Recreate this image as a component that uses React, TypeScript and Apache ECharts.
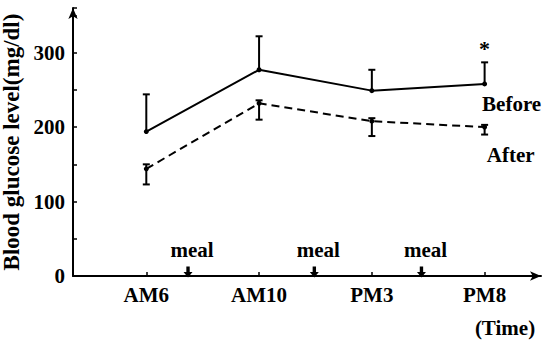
import React, { useEffect, useRef } from "react";
import * as echarts from "echarts";

const categories = ["AM6", "AM10", "PM3", "PM8"];
const beforeMean = [194, 277, 249, 258];
const beforeUpper = [244, 322, 277, 287];
const afterMean = [144, 232, 208, 200];
const afterLower = [123, 210, 188, 190];
const afterUpper = [150, 236, 212, 203];
const mealTimes = [1.37, 2.49, 3.44];
const significant = [{ category: "PM8", value: 306 }];
const yTickLabels = [0, 100, 200, 300];

const FONT = "Liberation Serif";
const FS = 21;

export default function App() {
  const ref = useRef<HTMLDivElement>(null);
  useEffect(() => {
    if (!ref.current) return;
    const chart = echarts.init(ref.current, null, { renderer: "svg" });
    const xs = categories.map((_, i) => i + 1);
    const errRender = (caps: "top" | "both") => (params: any, api: any) => {
      const x = api.value(0);
      const lo = api.coord([x, api.value(1)]);
      const hi = api.coord([x, api.value(2)]);
      const c = 3.5;
      const st = { stroke: "#000", lineWidth: 2 };
      const children: any[] = [
        { type: "line", shape: { x1: lo[0], y1: lo[1], x2: hi[0], y2: hi[1] }, style: st },
        { type: "line", shape: { x1: hi[0] - c, y1: hi[1], x2: hi[0] + c, y2: hi[1] }, style: st },
      ];
      if (caps === "both")
        children.push({ type: "line", shape: { x1: lo[0] - c, y1: lo[1], x2: lo[0] + c, y2: lo[1] }, style: st });
      return { type: "group", children };
    };
    const n = categories.length;
    const txt = { fontSize: FS, fontWeight: "bold", fontFamily: FONT, color: "#000", opacity: 1 };
    chart.setOption({
      animation: false,
      backgroundColor: "#fff",
      textStyle: { fontFamily: FONT, color: "#000" },
      grid: { left: 73, right: 3, top: 8, bottom: 66, outerBoundsMode: "none", containLabel: false },
      xAxis: {
        type: "value",
        min: 0.35,
        max: 4.5,
        splitLine: { show: false },
        axisLine: { show: true, symbol: ["none", "arrow"], symbolSize: [7, 11], lineStyle: { color: "#000", width: 2 } },
        axisTick: { show: true, inside: true, length: 4, customValues: xs, lineStyle: { color: "#000", width: 1.5 } },
        axisLabel: {
          show: true,
          customValues: xs,
          margin: 8,
          ...txt,
          formatter: (v: number) => categories[Math.round(v) - 1] ?? "",
        },
      },
      yAxis: {
        type: "value",
        min: 0,
        max: 360,
        interval: 50,
        name: "Blood glucose level(mg/dl)",
        nameLocation: "middle",
        nameRotate: 90,
        nameGap: 37,
        nameTextStyle: { ...txt, fontSize: 23 },
        splitLine: { show: false },
        axisLine: { show: true, symbol: ["none", "arrow"], symbolSize: [7, 11], lineStyle: { color: "#000", width: 2 } },
        axisTick: { show: true, inside: true, length: 4, lineStyle: { color: "#000", width: 1.5 } },
        axisLabel: {
          margin: 8,
          ...txt,
          formatter: (v: number) => (yTickLabels.includes(v) ? String(v) : ""),
        },
      },
      series: [
        {
          type: "line",
          data: beforeMean.map((v, i) => {
            const d: any = { value: [xs[i], v] };
            if (i === n - 1)
              d.label = { show: true, position: "bottom", formatter: "Before", offset: [27, 2], ...txt };
            return d;
          }),
          symbol: "circle",
          symbolSize: 5,
          itemStyle: { color: "#000" },
          lineStyle: { color: "#000", width: 2, type: "solid" },
        },
        {
          type: "line",
          data: afterMean.map((v, i) => {
            const d: any = { value: [xs[i], v] };
            if (i === n - 1)
              d.label = { show: true, position: "bottom", formatter: "After", offset: [26, 10], ...txt };
            return d;
          }),
          symbol: "circle",
          symbolSize: 5,
          itemStyle: { color: "#000" },
          lineStyle: { color: "#000", width: 2, type: [8, 5] },
        },
        {
          type: "custom",
          renderItem: errRender("top"),
          data: beforeMean.map((v, i) => [xs[i], v, beforeUpper[i]]),
          encode: { x: 0, y: [1, 2] },
          z: 3,
        },
        {
          type: "custom",
          renderItem: errRender("both"),
          data: afterLower.map((v, i) => [xs[i], v, afterUpper[i]]),
          encode: { x: 0, y: [1, 2] },
          z: 3,
        },
        {
          type: "scatter",
          data: significant.map((s) => [categories.indexOf(s.category) + 1, s.value]),
          symbolSize: 1,
          itemStyle: { color: "transparent", opacity: 1 },
          label: { show: true, position: "inside", formatter: "*", ...txt, fontSize: 22 },
        },
        {
          type: "scatter",
          data: mealTimes.map((t) => [t, 0]),
          symbol: "path://M2.5,0 L5.5,0 L5.5,5 L8,5 L4,10 L0,5 L2.5,5 Z",
          symbolSize: [9, 11],
          symbolOffset: [0, -4],
          itemStyle: { color: "#000", opacity: 1 },
          label: { show: true, position: "top", formatter: "meal", offset: [4, -1], ...txt },
          z: 4,
        },
      ],
      graphic: [
        {
          type: "text",
          x: 505,
          y: 328,
          style: { text: "(Time)", fontSize: FS, fontWeight: "bold", fontFamily: FONT, fill: "#000", textAlign: "center", textVerticalAlign: "middle" },
        },
      ],
    });
    return () => chart.dispose();
  }, []);
  return <div ref={ref} style={{ width: 544, height: 342, position: "absolute", left: 0, top: 0 }} />;
}
